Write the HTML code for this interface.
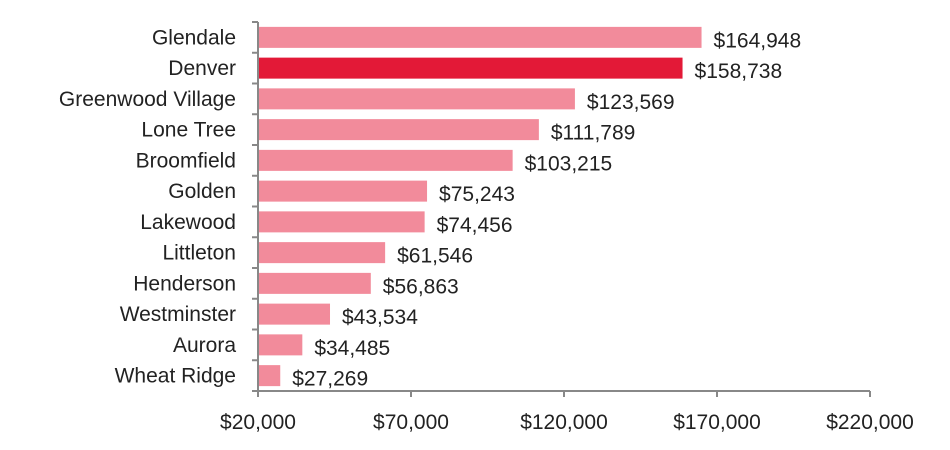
<!DOCTYPE html>
<html><head><meta charset="utf-8"><style>
body{margin:0;background:#fff;}
svg{display:block;font-family:"Liberation Sans",sans-serif;}
</style></head><body>
<svg id="chart" width="950" height="450"></svg>
<script>
const categories=["Glendale","Denver","Greenwood Village","Lone Tree","Broomfield","Golden","Lakewood","Littleton","Henderson","Westminster","Aurora","Wheat Ridge"];
const values=[164948,158738,123569,111789,103215,75243,74456,61546,56863,43534,34485,27269];
const highlight=["Denver"];
const ticks=[20000,70000,120000,170000,220000];
const svg=document.getElementById('chart');
const NS='http://www.w3.org/2000/svg';
const x0=258,x1=870,yTop=22,yBot=391,xMin=20000,xMax=220000;
const band=(yBot-yTop)/categories.length;
const xs=v=>x0+(v-xMin)/(xMax-xMin)*(x1-x0);
const fmt=v=>'$'+v.toLocaleString('en-US');
function mk(tag,attrs,txt){const e=document.createElementNS(NS,tag);for(const k in attrs)e.setAttribute(k,attrs[k]);if(txt!==undefined)e.textContent=txt;svg.appendChild(e);return e;}
categories.forEach((c,i)=>{
  const cy=yTop+band*(i+0.5);
  const b=mk('rect',{x:x0,y:cy-10.5,width:Math.max(0,xs(values[i])-x0),height:21,fill:highlight.includes(c)?'#e31937':'#f28b9b'});
  
  
  const l=mk('text',{x:236,y:cy+7,'text-anchor':'end','font-size':21,fill:'#222'},c);
  
  
  const v=mk('text',{x:xs(values[i])+12,y:cy+10,'font-size':21,fill:'#222'},fmt(values[i]));
  
  
});
for(let i=0;i<=categories.length;i++){
  const y=yTop+band*i;
  const t=mk('line',{x1:x0-6,x2:x0,y1:y,y2:y,stroke:'#888','stroke-width':2});
  
  
}
const ya=mk('line',{x1:x0,x2:x0,y1:yTop,y2:yBot+6,stroke:'#888','stroke-width':2});


const xa=mk('line',{x1:x0-6,x2:x1,y1:yBot,y2:yBot,stroke:'#888','stroke-width':2});


ticks.forEach(t=>{
  const tk=mk('line',{x1:xs(t),x2:xs(t),y1:yBot,y2:yBot+6,stroke:'#888','stroke-width':2});
  
  
  const tl=mk('text',{x:xs(t),y:429,'text-anchor':'middle','font-size':21,fill:'#222'},fmt(t));
  
  
});
</script>
</body></html>
